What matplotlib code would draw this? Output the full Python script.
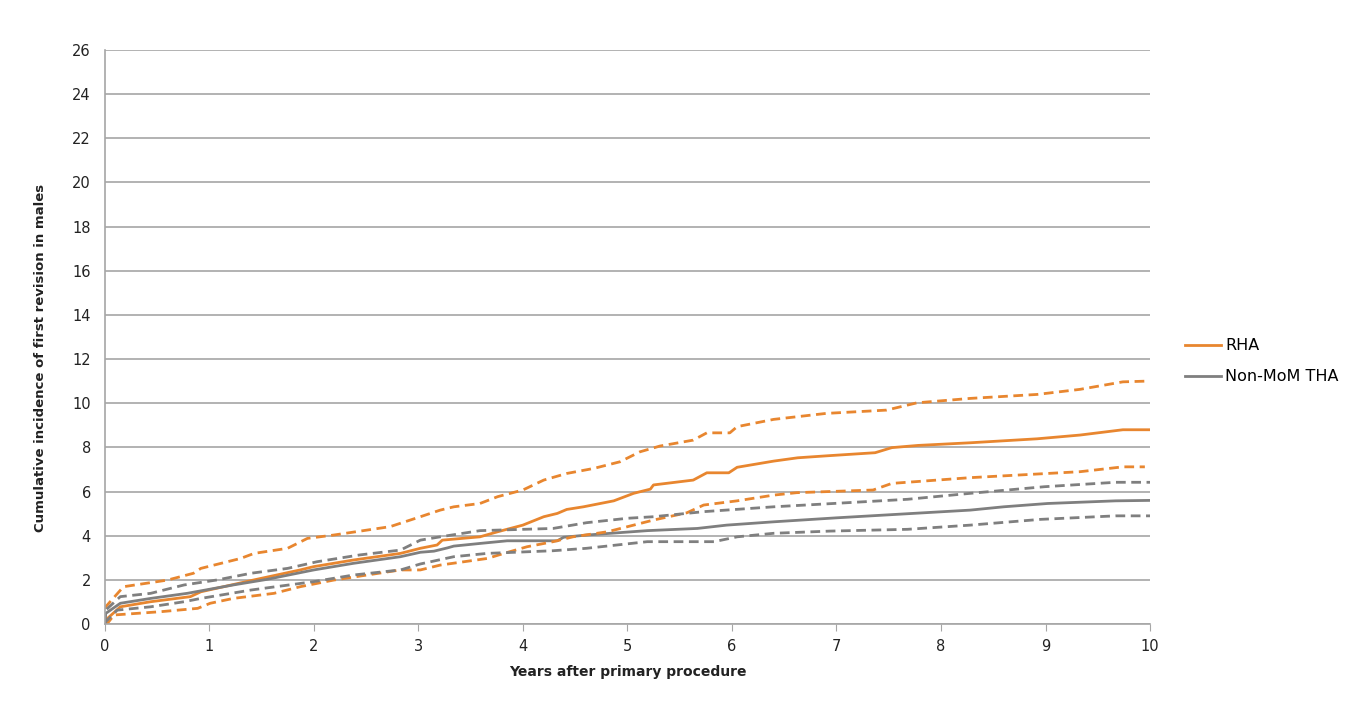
import matplotlib
matplotlib.use("Agg")
import matplotlib.pyplot as plt

# RHA (orange): estimate, lower and upper CI
rha_t = [0, 0.01, 0.15, 0.44, 0.82, 0.92, 1.43, 1.87, 2.0, 2.38, 2.83, 3.02, 3.18, 3.23, 3.59, 3.76, 4.0, 4.2,
         4.33, 4.42, 4.58, 4.87, 5.06, 5.22, 5.25, 5.63, 5.76, 5.97, 6.05, 6.4, 6.63, 6.91, 7.37, 7.53, 7.78,
         8.28, 8.92, 9.33, 9.74, 10.0]
rha_est = [0, 0.18, 0.78, 1.01, 1.24, 1.46, 2.0, 2.45, 2.6, 2.9, 3.2, 3.43, 3.58, 3.8, 3.95, 4.18, 4.48, 4.86,
           5.01, 5.19, 5.31, 5.58, 5.92, 6.11, 6.3, 6.52, 6.85, 6.85, 7.1, 7.38, 7.53, 7.62, 7.76, 7.99, 8.09,
           8.21, 8.39, 8.56, 8.8, 8.8]

rha_up_t = [0, 0.01, 0.18, 0.6, 0.85, 0.92, 1.3, 1.43, 1.75, 1.94, 2.19, 2.73, 3.02, 3.21, 3.34, 3.59, 3.76,
            4.0, 4.2, 4.42, 4.68, 4.93, 5.12, 5.31, 5.63, 5.76, 5.98, 6.05, 6.4, 6.9, 7.48, 7.77, 8.28, 8.92,
            9.33, 9.74, 9.95]
rha_up = [0.7, 0.78, 1.69, 1.99, 2.3, 2.52, 2.97, 3.2, 3.43, 3.88, 4.03, 4.41, 4.86, 5.16, 5.31, 5.46, 5.77,
          6.07, 6.52, 6.82, 7.05, 7.35, 7.8, 8.06, 8.33, 8.66, 8.66, 8.94, 9.27, 9.54, 9.69, 10.02, 10.22,
          10.4, 10.63, 10.97, 11.0]

rha_lo_t = [0, 0.03, 0.09, 0.54, 0.89, 1.01, 1.23, 1.62, 1.87, 2.19, 2.83, 3.02, 3.21, 3.66, 3.82, 4.04, 4.29,
            4.48, 4.81, 5.06, 5.25, 5.57, 5.73, 6.05, 6.4, 6.62, 7.35, 7.53, 8.28, 9.33, 9.74, 9.95]
rha_lo = [0, 0.05, 0.41, 0.56, 0.71, 0.94, 1.16, 1.39, 1.69, 1.99, 2.45, 2.45, 2.67, 2.97, 3.2, 3.5, 3.73,
          3.95, 4.18, 4.48, 4.71, 5.04, 5.39, 5.58, 5.84, 5.95, 6.07, 6.37, 6.63, 6.9, 7.12, 7.12]

# Non-MoM THA (grey): estimate, lower and upper CI
tha_t = [0, 0.01, 0.15, 0.44, 0.79, 1.23, 1.55, 2.0, 2.38, 2.83, 3.02, 3.15, 3.28, 3.34, 3.59, 3.85, 4.33,
         4.39, 4.61, 5.19, 5.67, 5.95, 6.4, 7.0, 7.73, 8.28, 8.6, 9.02, 9.67, 10.0]
tha_est = [0, 0.48, 0.94, 1.16, 1.39, 1.77, 2.02, 2.45, 2.75, 3.05, 3.25, 3.3, 3.45, 3.53, 3.65, 3.77, 3.77,
           3.93, 4.03, 4.23, 4.33, 4.48, 4.63, 4.81, 5.01, 5.16, 5.31, 5.46, 5.58, 5.6]

tha_up_t = [0, 0.01, 0.15, 0.44, 0.76, 1.08, 1.4, 1.75, 2.03, 2.44, 2.83, 3.02, 3.21, 3.59, 4.29, 4.61, 5.0,
            5.25, 5.73, 6.4, 6.97, 7.68, 8.28, 8.99, 9.67, 10.0]
tha_up = [0, 0.63, 1.24, 1.39, 1.77, 2.0, 2.3, 2.52, 2.82, 3.13, 3.35, 3.8, 3.95, 4.23, 4.33, 4.59, 4.79,
          4.86, 5.09, 5.31, 5.46, 5.65, 5.92, 6.22, 6.42, 6.42]

tha_lo_t = [0, 0.01, 0.12, 0.44, 0.76, 0.92, 1.4, 2.0, 2.38, 2.83, 3.02, 3.34, 3.66, 4.29, 4.61, 5.19, 5.83,
            6.05, 6.4, 6.94, 7.68, 8.28, 8.95, 9.67, 10.0]
tha_lo = [0, 0.1, 0.63, 0.78, 1.01, 1.16, 1.54, 1.92, 2.22, 2.45, 2.72, 3.05, 3.2, 3.32, 3.43, 3.73, 3.73,
          3.95, 4.11, 4.21, 4.29, 4.48, 4.74, 4.9, 4.9]

orange = "#E8862F"
grey = "#7F7F7F"

fig = plt.figure(figsize=(13.68, 7.22), dpi=100)
ax = fig.add_axes([0.0765, 0.1357, 0.7642, 0.795])

lw = 2.0
ax.plot(rha_t, rha_est, color=orange, lw=lw, label="RHA")
ax.plot(tha_t, tha_est, color=grey, lw=lw, label="Non-MoM THA")
ax.plot(rha_up_t, rha_up, color=orange, lw=lw, dashes=(3.5, 2))
ax.plot(rha_lo_t, rha_lo, color=orange, lw=lw, dashes=(3.5, 2))
ax.plot(tha_up_t, tha_up, color=grey, lw=lw, dashes=(3.5, 2))
ax.plot(tha_lo_t, tha_lo, color=grey, lw=lw, dashes=(3.5, 2))

ax.set_xlim(0, 10)
ax.set_ylim(0, 26)
ax.set_xticks(range(0, 11))
ax.set_yticks(range(0, 27, 2))
ax.grid(axis="y", color="#A6A6A6", lw=1.2)
ax.set_axisbelow(True)
for s in ["top", "right"]:
    ax.spines[s].set_visible(False)
ax.spines["left"].set_color("#A6A6A6")
ax.spines["bottom"].set_color("#A6A6A6")
ax.spines["left"].set_linewidth(1.2)
ax.spines["bottom"].set_linewidth(1.2)
ax.tick_params(axis="x", direction="out", length=5, color="#A6A6A6", labelsize=10.5, pad=6, labelcolor="#222222")
ax.tick_params(axis="y", length=0, labelsize=10.5, pad=10, labelcolor="#222222")

ax.set_xlabel("Years after primary procedure", fontsize=10, fontweight="bold", labelpad=8, color="#222222")
ax.set_ylabel("Cumulative incidence of first revision in males", fontsize=9.5, fontweight="bold",
              color="#222222")
ax.yaxis.set_label_coords(-0.055, 0.463)

ax.legend(loc="center left", bbox_to_anchor=(1.02, 0.458), frameon=False, fontsize=11.5,
          handlelength=2.2, labelspacing=1.0, handletextpad=0.3)

fig.savefig("out.png", dpi=100)
